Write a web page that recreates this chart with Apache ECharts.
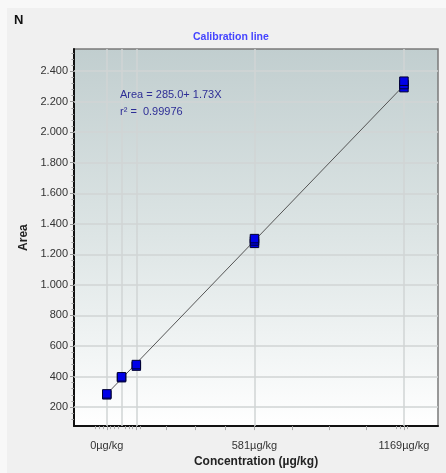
<!DOCTYPE html>
<html>
<head>
<meta charset="utf-8">
<script src="https://cdn.jsdelivr.net/npm/echarts@6/dist/echarts.min.js"></script>
<style>
html,body{margin:0;padding:0;background:#f0f0f0;}
#chart{width:446px;height:473px;}
</style>
</head>
<body>
<div id="chart"></div>
<script>
// ---- data ----
const xLevels = [0, 58.1, 116.2, 581, 1169];
const replicateAreas = [
  [280, 286],
  [392, 398],
  [468, 478],
  [1272, 1288, 1303],
  [2292, 2312, 2334]
];
const fitLine = [[0, 285], [1169, 2307]];
const yTickValues = [200, 400, 600, 800, 1000, 1200, 1400, 1600, 1800, 2000, 2200, 2400];
const yMinorTicks = [];
for (let v = 120; v <= 2520; v += 40) if (v % 200 !== 0) yMinorTicks.push(v);
const xLabelValues = [0, 581, 1169];
const xTickValues = [0, 116.2, 232.4, 348.6, 464.8, 581, 728, 875, 1022, 1169];
const xMinorTicks = [-43.5, -29, -14.5, 14.5, 29, 43.5, 72.6, 87.1, 101.7, 130.7, 1140, 1154.5, 1183.5];
const titleText = 'Calibration line';
const equationText = 'Area = 285.0+ 1.73X';
const r2Text = 'r\u00b2 =  0.99976';

const X_MIN = -129, X_MAX = 1303, Y_MIN = 75, Y_MAX = 2545;

const points = [];
xLevels.forEach((x, i) => replicateAreas[i].forEach(a => points.push([x, a])));

function fmtY(v) {
  if (v >= 1000) return Math.floor(v / 1000) + '.' + String(v % 1000).padStart(3, '0');
  return String(v);
}

const chart = echarts.init(document.getElementById('chart'), null, {renderer: 'canvas'});
const font = 'Arial, "Liberation Sans", sans-serif';
const gridLines = xLevels.map(x => [{coord: [x, Y_MIN]}, {coord: [x, Y_MAX]}])
  .concat(yTickValues.map(y => [{coord: [X_MIN, y]}, {coord: [X_MAX, y]}]));
const option = {
  backgroundColor: '#f0f0f0',
  animation: false,
  textStyle: {fontFamily: font},
  graphic: [
    {type: 'rect', shape: {x: 0, y: 0, width: 446, height: 8}, style: {fill: '#f8f8f8'}, z: -10, silent: true},
    {type: 'rect', shape: {x: 0, y: 0, width: 7, height: 473}, style: {fill: '#f8f8f8'}, z: -10, silent: true},
    {type: 'text', left: 14, top: 14, style: {text: 'N', font: 'bold 13px ' + font, fill: '#111'}},
    {type: 'text', left: 120, top: 89, z: 10, style: {text: equationText, font: '11px ' + font, fill: '#2e2e96'}},
    {type: 'text', left: 120, top: 106, z: 10, style: {text: r2Text, font: '11px ' + font, fill: '#2e2e96'}}
  ],
  title: {
    text: titleText,
    left: 193, top: 32, padding: 0,
    textStyle: {fontSize: 10.5, fontWeight: 'bold', color: '#4444ff', fontFamily: font}
  },
  grid: {
    left: 74, top: 49, right: 8, bottom: 41,
    show: true,
    borderColor: '#7a7a7a', borderWidth: 1.5,
    backgroundColor: {
      type: 'linear', x: 0, y: 0, x2: 0, y2: 1,
      colorStops: [
        {offset: 0, color: '#c1cecf'},
        {offset: 0.5, color: '#dde5e5'},
        {offset: 1, color: '#ffffff'}
      ]
    }
  },
  xAxis: [{
    type: 'value', min: X_MIN, max: X_MAX,
    name: 'Concentration (\u00b5g/kg)', nameLocation: 'middle', nameGap: 25,
    nameTextStyle: {fontSize: 12, fontWeight: 'bold', color: '#222', fontFamily: font},
    axisLine: {show: true, onZero: false, lineStyle: {color: '#111', width: 2}},
    axisTick: {show: true, customValues: xTickValues, length: 4, lineStyle: {color: '#aaa'}},
    axisLabel: {customValues: xLabelValues, formatter: v => v + '\u00b5g/kg', fontSize: 11, color: '#333', margin: 14},
    splitLine: {show: false}
  }, {
    type: 'value', min: X_MIN, max: X_MAX, position: 'bottom',
    axisLine: {show: false, onZero: false},
    axisTick: {show: true, customValues: xMinorTicks, length: 3, lineStyle: {color: '#aaa'}},
    axisLabel: {show: false},
    splitLine: {show: false}
  }],
  yAxis: [{
    type: 'value', min: Y_MIN, max: Y_MAX,
    name: 'Area', nameLocation: 'middle', nameGap: 42, nameRotate: 90,
    nameTextStyle: {fontSize: 12, fontWeight: 'bold', color: '#222', fontFamily: font},
    axisLine: {show: true, onZero: false, lineStyle: {color: '#111', width: 2}},
    axisTick: {show: true, customValues: yTickValues, length: 4, lineStyle: {color: '#999'}},
    axisLabel: {customValues: yTickValues, formatter: fmtY, fontSize: 11, color: '#333', margin: 6},
    splitLine: {show: false}
  }, {
    type: 'value', min: Y_MIN, max: Y_MAX, position: 'left',
    axisLine: {show: false, onZero: false},
    axisTick: {show: true, customValues: yMinorTicks, length: 2.5, lineStyle: {color: '#999'}},
    axisLabel: {show: false},
    splitLine: {show: false}
  }],
  series: [
    {
      type: 'scatter', data: [], z: 1, silent: true,
      markLine: {
        silent: true, symbol: 'none', label: {show: false}, animation: false, z: 1,
        lineStyle: {color: '#d0d4d4', type: 'solid', width: 1.5},
        data: gridLines
      }
    },
    {
      type: 'line', data: fitLine, showSymbol: false, symbol: 'none', z: 3,
      lineStyle: {color: '#555', width: 1}
    },
    {
      type: 'scatter', data: points, z: 4,
      symbol: 'rect', symbolSize: 8.5,
      itemStyle: {color: '#0000e8', borderColor: '#000030', borderWidth: 1, opacity: 1}
    }
  ]
};
chart.setOption(option);
</script>
</body>
</html>
